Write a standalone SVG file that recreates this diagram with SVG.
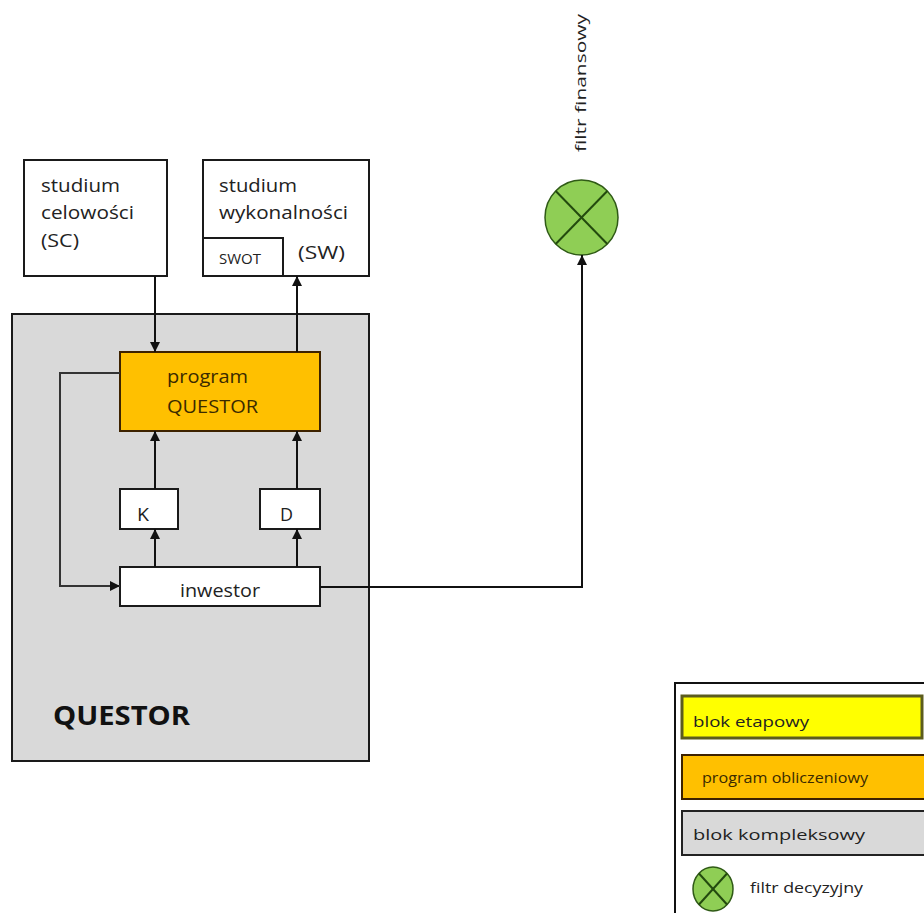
<svg xmlns="http://www.w3.org/2000/svg" width="924" height="913" viewBox="0 0 924 913">
  <style>
    .t { font-family: "Open Sans", "Liberation Sans", sans-serif; font-size: 18px; fill: #222; }
    .s { font-family: "Open Sans", "Liberation Sans", sans-serif; font-size: 14px; fill: #222; }
    .lg { font-family: "Open Sans", "Liberation Sans", sans-serif; font-size: 15px; fill: #222; }
    .box { fill: #ffffff; stroke: #1a1a1a; stroke-width: 2; }
    .prog { fill: #ffc000; stroke: #3d2200; stroke-width: 2; }
    .cplx { fill: #d9d9d9; stroke: #1a1a1a; stroke-width: 2; }
    .filt { fill: #8fce55; stroke: #2f5a16; stroke-width: 1.5; }
    .cross { stroke: #234a0e; stroke-width: 2; }
    .conn { fill: none; stroke: #111; stroke-width: 2; }
  </style>
  <defs>
    <marker id="arr" markerUnits="userSpaceOnUse" markerWidth="10" markerHeight="10" refX="10" refY="5" orient="auto">
      <path d="M0,0 L10,5 L0,10 z" fill="#111"/>
    </marker>
  </defs>

  <rect width="924" height="913" fill="#ffffff"/>

  <!-- complex block -->
  <g id="questor">
    <rect class="cplx" x="12" y="314" width="357" height="447"/>
    <text x="53" y="725" font-family="Open Sans, Liberation Sans, sans-serif" font-weight="bold" font-size="27" fill="#111" textLength="137" lengthAdjust="spacingAndGlyphs">QUESTOR</text>
  </g>

  <!-- feasibility studies -->
  <g id="sc">
    <rect class="box" x="24" y="160" width="143" height="116"/>
    <text class="t" x="41" y="192" textLength="79" lengthAdjust="spacingAndGlyphs">studium</text>
    <text class="t" x="41" y="219" textLength="93" lengthAdjust="spacingAndGlyphs">celowości</text>
    <text class="t" x="41" y="247" textLength="38" lengthAdjust="spacingAndGlyphs">(SC)</text>
  </g>

  <g id="sw">
    <rect class="box" x="203" y="160" width="166" height="116"/>
    <text class="t" x="219" y="192" textLength="78" lengthAdjust="spacingAndGlyphs">studium</text>
    <text class="t" x="219" y="219" textLength="129" lengthAdjust="spacingAndGlyphs">wykonalności</text>
    <text class="t" x="298" y="259" textLength="47" lengthAdjust="spacingAndGlyphs">(SW)</text>
  </g>

  <g id="swot">
    <rect class="box" x="203" y="238" width="80" height="38"/>
    <text class="s" x="219" y="264" textLength="42" lengthAdjust="spacingAndGlyphs">SWOT</text>
  </g>

  <!-- computational program -->
  <g id="program">
    <rect class="prog" x="120" y="352" width="200" height="79"/>
    <text class="t" x="167" y="383" style="fill:#3a2a00" textLength="81" lengthAdjust="spacingAndGlyphs">program</text>
    <text class="t" x="167" y="413" style="fill:#3a2a00" textLength="91" lengthAdjust="spacingAndGlyphs">QUESTOR</text>
  </g>

  <g id="k">
    <rect class="box" x="120" y="489" width="58" height="40"/>
    <text class="t" x="137" y="521" textLength="12" lengthAdjust="spacingAndGlyphs">K</text>
  </g>

  <g id="d">
    <rect class="box" x="260" y="489" width="60" height="40"/>
    <text class="t" x="280" y="521" textLength="13" lengthAdjust="spacingAndGlyphs">D</text>
  </g>

  <g id="inwestor">
    <rect class="box" x="120" y="567" width="200" height="39"/>
    <text class="t" x="180" y="597" textLength="80" lengthAdjust="spacingAndGlyphs">inwestor</text>
  </g>

  <!-- financial filter -->
  <g id="filtr-finansowy">
    <ellipse class="filt" cx="581.5" cy="217.5" rx="36.5" ry="37.5"/>
    <line class="cross" x1="555.7" y1="191" x2="607.3" y2="244"/>
    <line class="cross" x1="607.3" y1="191" x2="555.7" y2="244"/>
    <text class="lg" transform="translate(586,152) rotate(-90)" textLength="138" lengthAdjust="spacingAndGlyphs">filtr finansowy</text>
  </g>

  <!-- connectors -->
  <g id="connectors">
    <path class="conn" d="M155,276 V352" marker-end="url(#arr)"/>
    <path class="conn" d="M297,352 V276" marker-end="url(#arr)"/>
    <path class="conn" d="M155,489 V431" marker-end="url(#arr)"/>
    <path class="conn" d="M297,489 V431" marker-end="url(#arr)"/>
    <path class="conn" d="M155,567 V529" marker-end="url(#arr)"/>
    <path class="conn" d="M297,567 V529" marker-end="url(#arr)"/>
    <path class="conn" d="M120,373 H60 V586 H120" marker-end="url(#arr)" style="stroke:#333"/>
    <path class="conn" d="M320,587 H582 V255" marker-end="url(#arr)"/>
  </g>

  <!-- legend -->
  <g id="legend">
    <rect x="675" y="683" width="260" height="240" fill="#ffffff" stroke="#111" stroke-width="2"/>
    <rect x="682" y="696" width="240" height="42" fill="#ffff00" stroke="#5c5c1e" stroke-width="3"/>
    <text class="lg" x="693" y="727" textLength="116" lengthAdjust="spacingAndGlyphs">blok etapowy</text>
    <rect x="682" y="755" width="260" height="44" fill="#ffc000" stroke="#3d2200" stroke-width="2"/>
    <text class="lg" x="702" y="783" style="fill:#3a2a00" textLength="166" lengthAdjust="spacingAndGlyphs">program obliczeniowy</text>
    <rect x="682" y="811" width="260" height="44" fill="#d9d9d9" stroke="#222" stroke-width="2"/>
    <text class="lg" x="693" y="840" textLength="172" lengthAdjust="spacingAndGlyphs">blok kompleksowy</text>
    <ellipse class="filt" cx="713" cy="889" rx="20" ry="22"/>
    <line class="cross" x1="699" y1="873.5" x2="727" y2="904.5"/>
    <line class="cross" x1="727" y1="873.5" x2="699" y2="904.5"/>
    <text class="lg" x="750" y="893" textLength="113" lengthAdjust="spacingAndGlyphs">filtr decyzyjny</text>
  </g>
</svg>
